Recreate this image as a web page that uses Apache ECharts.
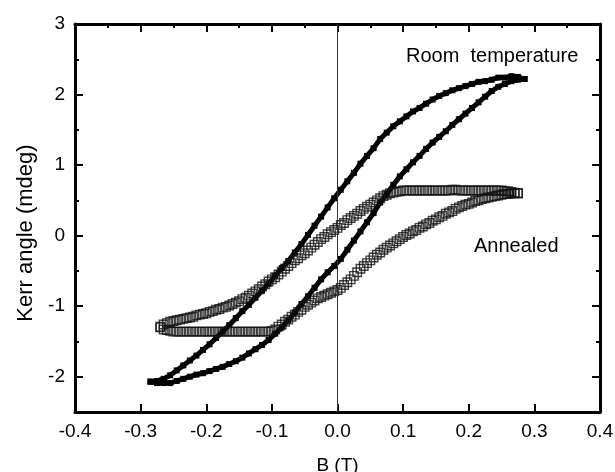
<!DOCTYPE html>
<html>
<head>
<meta charset="utf-8">
<script src="https://cdn.jsdelivr.net/npm/echarts@6/dist/echarts.min.js"></script>
<style>
  html, body { margin: 0; padding: 0; background: #fff; }
  #chart { width: 615px; height: 472px; }
</style>
</head>
<body>
<div id="chart"></div>
<script>
// 刻度
const xMajorTicks = [-0.4, -0.3, -0.2, -0.1, 0, 0.1, 0.2, 0.3, 0.4];
const xMinorTicks = [-0.35, -0.25, -0.15, -0.05, 0.05, 0.15, 0.25, 0.35];
const yMajorTicks = [-2, -1, 0, 1, 2, 3];
const yMinorTicks = [-2.5, -1.5, -0.5, 0.5, 1.5, 2.5];

// Room temperature, field going down
const roomDown = [
  [0.285,2.22],[0.275,2.25],[0.265,2.26],[0.255,2.24],[0.245,2.24],[0.235,2.21],[0.225,2.19],
  [0.215,2.18],[0.205,2.15],[0.195,2.12],[0.185,2.09],[0.175,2.06],[0.165,2.02],[0.155,1.98],
  [0.145,1.93],[0.135,1.87],[0.125,1.81],[0.115,1.76],[0.105,1.69],[0.095,1.62],[0.085,1.55],
  [0.075,1.46],[0.065,1.37],[0.055,1.24],[0.045,1.13],[0.035,1.02],[0.025,0.89],[0.015,0.77],
  [0.005,0.65],[-0.005,0.53],[-0.015,0.40],[-0.025,0.27],[-0.035,0.14],[-0.045,0.01],
  [-0.055,-0.12],[-0.065,-0.24],[-0.075,-0.36],[-0.085,-0.46],[-0.095,-0.57],[-0.105,-0.68],
  [-0.115,-0.78],[-0.125,-0.88],[-0.135,-0.98],[-0.145,-1.07],[-0.155,-1.17],[-0.165,-1.27],
  [-0.175,-1.36],[-0.185,-1.45],[-0.195,-1.54],[-0.205,-1.62],[-0.215,-1.70],[-0.225,-1.77],
  [-0.235,-1.84],[-0.245,-1.91],[-0.255,-1.98],[-0.265,-2.03],[-0.275,-2.06],[-0.285,-2.07]
];

// Room temperature, field going up
const roomUp = [
  [-0.285,-2.07],[-0.275,-2.09],[-0.265,-2.09],[-0.255,-2.09],[-0.245,-2.06],[-0.235,-2.03],
  [-0.225,-2.00],[-0.215,-1.97],[-0.205,-1.95],[-0.195,-1.92],[-0.185,-1.89],[-0.175,-1.86],
  [-0.165,-1.82],[-0.155,-1.78],[-0.145,-1.73],[-0.135,-1.67],[-0.125,-1.61],[-0.115,-1.55],
  [-0.105,-1.48],[-0.095,-1.39],[-0.085,-1.30],[-0.075,-1.20],[-0.065,-1.09],[-0.055,-0.97],
  [-0.045,-0.86],[-0.035,-0.74],[-0.025,-0.62],[-0.015,-0.52],[-0.005,-0.43],[0.005,-0.33],
  [0.015,-0.20],[0.025,-0.07],[0.035,0.06],[0.045,0.19],[0.055,0.32],[0.065,0.47],[0.075,0.59],
  [0.085,0.72],[0.095,0.84],[0.105,0.94],[0.115,1.04],[0.125,1.13],[0.135,1.23],[0.145,1.32],
  [0.155,1.40],[0.165,1.48],[0.175,1.57],[0.185,1.65],[0.195,1.73],[0.205,1.81],[0.215,1.89],
  [0.225,1.97],[0.235,2.05],[0.245,2.11],[0.255,2.15],[0.265,2.19],[0.275,2.21],[0.285,2.22]
];

// Annealed, field going down
const annealDown = [
  [0.275,0.60],[0.27,0.61],[0.265,0.62],[0.26,0.63],[0.255,0.63],[0.25,0.64],
  [0.245,0.64],[0.24,0.64],[0.235,0.64],[0.23,0.64],[0.225,0.64],[0.22,0.64],[0.215,0.64],
  [0.21,0.64],[0.205,0.64],[0.2,0.64],[0.195,0.64],[0.19,0.64],[0.185,0.64],[0.18,0.65],
  [0.175,0.65],[0.17,0.64],[0.165,0.64],[0.16,0.64],[0.155,0.64],[0.15,0.64],[0.145,0.64],
  [0.14,0.64],[0.135,0.64],[0.13,0.64],[0.125,0.64],[0.12,0.64],[0.115,0.64],[0.11,0.64],
  [0.105,0.64],[0.1,0.64],[0.095,0.63],[0.09,0.62],[0.085,0.61],[0.08,0.60],[0.075,0.58],
  [0.07,0.56],[0.065,0.53],[0.06,0.50],[0.055,0.47],[0.05,0.44],[0.045,0.41],[0.04,0.38],
  [0.035,0.35],[0.03,0.31],[0.025,0.28],[0.02,0.25],[0.015,0.22],[0.01,0.18],[0.005,0.15],
  [0,0.11],[-0.005,0.08],[-0.01,0.05],[-0.015,0.02],[-0.02,-0.02],[-0.025,-0.05],[-0.03,-0.09],
  [-0.035,-0.13],[-0.04,-0.17],[-0.045,-0.21],[-0.05,-0.25],[-0.055,-0.28],[-0.06,-0.32],
  [-0.065,-0.35],[-0.07,-0.39],[-0.075,-0.43],[-0.08,-0.47],[-0.085,-0.51],[-0.09,-0.55],
  [-0.095,-0.59],[-0.1,-0.62],[-0.105,-0.65],[-0.11,-0.69],[-0.115,-0.72],[-0.12,-0.76],
  [-0.125,-0.79],[-0.13,-0.82],[-0.135,-0.85],[-0.14,-0.88],[-0.145,-0.90],[-0.15,-0.93],
  [-0.155,-0.95],[-0.16,-0.97],[-0.165,-0.99],[-0.17,-1.01],[-0.175,-1.02],[-0.18,-1.04],
  [-0.185,-1.05],[-0.19,-1.07],[-0.195,-1.08],[-0.2,-1.10],[-0.205,-1.11],[-0.21,-1.12],
  [-0.215,-1.13],[-0.22,-1.15],[-0.225,-1.16],[-0.23,-1.17],[-0.235,-1.18],[-0.24,-1.19],
  [-0.245,-1.20],[-0.25,-1.21],[-0.255,-1.22],[-0.26,-1.24],[-0.265,-1.26],[-0.27,-1.29]
];

// Annealed, field going up
const annealUp = [
  [-0.27,-1.30],[-0.265,-1.33],[-0.26,-1.34],[-0.255,-1.35],
  [-0.25,-1.36],[-0.245,-1.36],[-0.24,-1.36],[-0.235,-1.36],[-0.23,-1.36],[-0.225,-1.36],
  [-0.22,-1.36],[-0.215,-1.36],[-0.21,-1.36],[-0.205,-1.36],[-0.2,-1.36],[-0.195,-1.36],
  [-0.19,-1.36],[-0.185,-1.36],[-0.18,-1.36],[-0.175,-1.36],[-0.17,-1.36],[-0.165,-1.36],
  [-0.16,-1.36],[-0.155,-1.36],[-0.15,-1.36],[-0.145,-1.36],[-0.14,-1.36],[-0.135,-1.36],
  [-0.13,-1.36],[-0.125,-1.36],[-0.12,-1.36],[-0.115,-1.36],[-0.11,-1.36],[-0.105,-1.36],
  [-0.1,-1.35],[-0.095,-1.33],[-0.09,-1.29],[-0.085,-1.26],[-0.08,-1.22],[-0.075,-1.19],
  [-0.07,-1.15],[-0.065,-1.12],[-0.06,-1.08],[-0.055,-1.05],[-0.05,-1.01],[-0.045,-0.98],
  [-0.04,-0.95],[-0.035,-0.92],[-0.03,-0.89],[-0.025,-0.87],[-0.02,-0.85],[-0.015,-0.83],
  [-0.01,-0.81],[-0.005,-0.79],[0,-0.77],[0.005,-0.74],[0.01,-0.70],[0.015,-0.66],[0.02,-0.62],
  [0.025,-0.57],[0.03,-0.52],[0.035,-0.47],[0.04,-0.43],[0.045,-0.39],[0.05,-0.35],[0.055,-0.31],
  [0.06,-0.27],[0.065,-0.24],[0.07,-0.20],[0.075,-0.17],[0.08,-0.14],[0.085,-0.11],[0.09,-0.08],
  [0.095,-0.05],[0.1,-0.02],[0.105,0.01],[0.11,0.03],[0.115,0.06],[0.12,0.08],[0.125,0.11],
  [0.13,0.13],[0.135,0.16],[0.14,0.18],[0.145,0.21],[0.15,0.23],[0.155,0.26],[0.16,0.28],
  [0.165,0.31],[0.17,0.33],[0.175,0.35],[0.18,0.38],[0.185,0.40],[0.19,0.42],[0.195,0.44],
  [0.2,0.45],[0.205,0.47],[0.21,0.49],[0.215,0.50],[0.22,0.52],[0.225,0.53],[0.23,0.54],
  [0.235,0.55],[0.24,0.56],[0.245,0.57],[0.25,0.58],[0.255,0.59],[0.26,0.59],[0.265,0.60],
  [0.27,0.60],[0.275,0.60]
];

const FONT = "'Liberation Sans', Arial, sans-serif";
const AXIS_COLOR = '#000';

// 坐标轴公共部分
function xAxisBase(pos) {
  return {
    type: 'value', position: pos, min: -0.4, max: 0.4,
    axisLine: { show: false, onZero: false },
    splitLine: { show: false },
    axisLabel: { show: false },
    axisTick: { show: false }
  };
}
function yAxisBase(pos) {
  return {
    type: 'value', position: pos, min: -2.5, max: 3,
    axisLine: { show: false, onZero: false },
    splitLine: { show: false },
    axisLabel: { show: false },
    axisTick: { show: false }
  };
}
function ticks(values, len) {
  return { show: true, inside: true, length: len, customValues: values,
           lineStyle: { color: AXIS_COLOR, width: 2 } };
}
const thickLine = { show: true, onZero: false, lineStyle: { color: AXIS_COLOR, width: 3 } };

const xBottom = Object.assign(xAxisBase('bottom'), {
  axisLine: thickLine,
  axisTick: ticks(xMajorTicks, 8),
  axisLabel: { show: true, customValues: xMajorTicks, margin: 10, color: '#000',
               fontFamily: FONT, fontSize: 19, formatter: v => v.toFixed(1) },
  name: 'B (T)', nameLocation: 'middle', nameGap: 44,
  nameTextStyle: { fontFamily: FONT, fontSize: 19, color: '#000' }
});
const xTop = Object.assign(xAxisBase('top'), { axisLine: thickLine, axisTick: ticks(xMajorTicks, 8) });
const xTopMinor = Object.assign(xAxisBase('top'), { axisTick: ticks(xMinorTicks, 4) });

const yLeft = Object.assign(yAxisBase('left'), {
  axisLine: thickLine,
  axisTick: ticks(yMajorTicks, 8),
  axisLabel: { show: true, customValues: yMajorTicks, margin: 10, color: '#000',
               fontFamily: FONT, fontSize: 19 },
  name: 'Kerr angle (mdeg)', nameLocation: 'middle', nameGap: 34,
  nameTextStyle: { fontFamily: FONT, fontSize: 22, color: '#000', padding: [0, 30, 0, 0] }
});
const yLeftMinor = Object.assign(yAxisBase('left'), { axisTick: ticks(yMinorTicks, 4) });
const yRight = Object.assign(yAxisBase('right'), { axisLine: thickLine, axisTick: ticks(yMajorTicks, 8) });
const yRightMinor = Object.assign(yAxisBase('right'), { axisTick: ticks(yMinorTicks, 4) });

function roomSeries(data) {
  return {
    type: 'line', data: data, xAxisIndex: 0, yAxisIndex: 0,
    symbol: 'rect', symbolSize: 6, showAllSymbol: true,
    itemStyle: { color: '#000' },
    lineStyle: { color: '#000', width: 5 },
    z: 3
  };
}
// 空心方块，叠在一起出灰色条纹
function annealSeries(data) {
  return {
    type: 'scatter', data: data, xAxisIndex: 0, yAxisIndex: 0,
    symbol: 'rect', symbolSize: 8.5,
    itemStyle: { color: 'rgba(255,255,255,0)', borderColor: '#111', borderWidth: 1.4 },
    z: 4
  };
}

const chart = echarts.init(document.getElementById('chart'), null, { renderer: 'canvas' });
chart.setOption({
  animation: false,
  backgroundColor: '#fff',
  grid: { left: 75, right: 15, top: 24, bottom: 60, outerBoundsMode: 'none', containLabel: false },
  xAxis: [xBottom, xTop, xTopMinor],
  yAxis: [yLeft, yLeftMinor, yRight, yRightMinor],
  series: [
    Object.assign(roomSeries(roomDown), {
      markLine: {
        silent: true, symbol: 'none', label: { show: false },
        lineStyle: { color: '#333', width: 1, type: 'solid' },
        data: [{ xAxis: 0 }]
      }
    }),
    roomSeries(roomUp),
    annealSeries(annealDown),
    annealSeries(annealUp)
  ],
  graphic: [
    { type: 'text', left: 406, top: 46,
      style: { text: 'Room  temperature', font: '20px ' + FONT, fill: '#000' } },
    { type: 'text', left: 474, top: 236,
      style: { text: 'Annealed', font: '20px ' + FONT, fill: '#000' } }
  ]
});
</script>
</body>
</html>
